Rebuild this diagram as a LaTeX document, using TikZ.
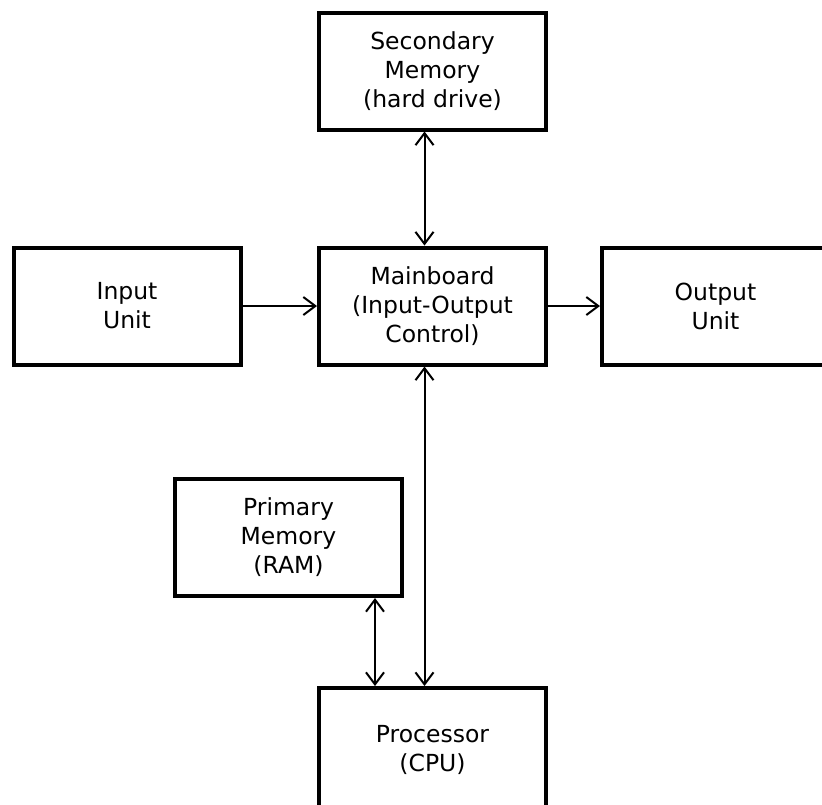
\documentclass[tikz,border=0pt]{standalone}
\usepackage{fontspec}
\setmainfont{DejaVu Sans}
\usetikzlibrary{shapes,arrows.meta,positioning,calc}

\tikzset{
    unit/.style={draw, line width=4pt, minimum width=227pt, minimum height=117pt,
        align=center, inner sep=0pt, font=\fontsize{23.5}{29}\selectfont},
    link/.style={line width=2pt, -{Straight Barb[length=12pt,width=18pt,line width=2pt]}},
    biglink/.style={line width=2pt, {Straight Barb[length=12pt,width=18pt,line width=2pt]}-{Straight Barb[length=12pt,width=18pt,line width=2pt]}}
}

\begin{document}
\begin{tikzpicture}[x=1pt, y=-1pt]
    \clip (0,0) rectangle (822,804);
    \useasboundingbox (0,0) rectangle (822,804);
    \node[unit] (sec) at (432.5,71) {Secondary\\Memory\\(hard drive)};
    \node[unit] (main) at (432.5,306) {Mainboard\\(Input-Output\\Control)};
    \node[unit] (input) at (127,306) {Input\\Unit};
    \node[unit] (output) at (715.5,306) {Output\\Unit};
    \node[unit] (ram) at (288.5,537.5) {Primary\\Memory\\(RAM)};
    \node[unit, minimum height=123pt] (cpu) at (432.5,749.5) {Processor\\(CPU)};
    \draw[link] (input) -- (main);
    \draw[link] (main) -- (output);
    \draw[biglink] ([xshift=-8pt]sec.south) -- ([xshift=-8pt]main.north);
    \draw[biglink] ([xshift=-8pt]main.south) -- ([xshift=-8pt]cpu.north);
    \draw[biglink] ([xshift=86.5pt]ram.south) -- ([xshift=86.5pt]ram.south |- cpu.north);
\end{tikzpicture}
\end{document}
